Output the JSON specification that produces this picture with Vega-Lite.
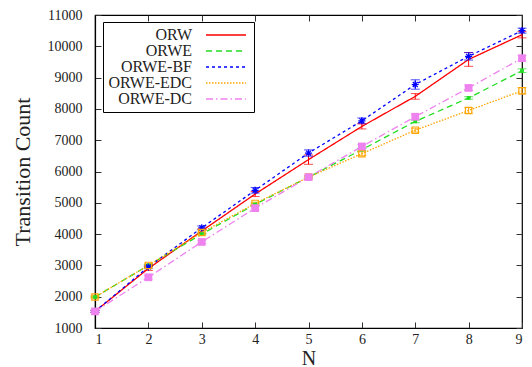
{
  "$schema": "https://vega.github.io/schema/vega-lite/v6.json",
  "width": 427,
  "height": 313,
  "autosize": {"type": "none"},
  "padding": {"left": 95, "top": 15, "right": 10, "bottom": 39},
  "background": "white",
  "config": {
    "font": "Liberation Serif",
    "view": {"stroke": "black", "strokeWidth": 1.2},
    "axis": {
      "grid": false,
      "domainColor": "black",
      "domainWidth": 1.2,
      "tickColor": "#333",
      "tickSize": -6,
      "tickWidth": 1,
      "labelColor": "#222",
      "labelFont": "Liberation Serif",
      "labelFontSize": 14,
      "titleFont": "Liberation Serif",
      "titleFontSize": 22,
      "titleFontWeight": "normal",
      "titleColor": "#222"
    },
    "legend": {
      "labelFont": "Liberation Serif",
      "labelFontSize": 16,
      "labelColor": "#222"
    }
  },
  "data": {
    "values": [
      {"N": 1, "series": "ORW", "count": 1530, "err": 30},
      {"N": 2, "series": "ORW", "count": 2900, "err": 60},
      {"N": 3, "series": "ORW", "count": 4100, "err": 70},
      {"N": 4, "series": "ORW", "count": 5280, "err": 80},
      {"N": 5, "series": "ORW", "count": 6380, "err": 150},
      {"N": 6, "series": "ORW", "count": 7440, "err": 80},
      {"N": 7, "series": "ORW", "count": 8400, "err": 90},
      {"N": 8, "series": "ORW", "count": 9580, "err": 220},
      {"N": 9, "series": "ORW", "count": 10370, "err": 100},
      {"N": 1, "series": "ORWE", "count": 1990, "err": 20},
      {"N": 2, "series": "ORWE", "count": 3000, "err": 30},
      {"N": 3, "series": "ORWE", "count": 4000, "err": 30},
      {"N": 4, "series": "ORWE", "count": 4950, "err": 30},
      {"N": 5, "series": "ORWE", "count": 5820, "err": 30},
      {"N": 6, "series": "ORWE", "count": 6700, "err": 40},
      {"N": 7, "series": "ORWE", "count": 7600, "err": 40},
      {"N": 8, "series": "ORWE", "count": 8350, "err": 40},
      {"N": 9, "series": "ORWE", "count": 9220, "err": 60},
      {"N": 1, "series": "ORWE-BF", "count": 1530, "err": 30},
      {"N": 2, "series": "ORWE-BF", "count": 2950, "err": 40},
      {"N": 3, "series": "ORWE-BF", "count": 4200, "err": 60},
      {"N": 4, "series": "ORWE-BF", "count": 5400, "err": 90},
      {"N": 5, "series": "ORWE-BF", "count": 6590, "err": 100},
      {"N": 6, "series": "ORWE-BF", "count": 7620, "err": 90},
      {"N": 7, "series": "ORWE-BF", "count": 8780, "err": 150},
      {"N": 8, "series": "ORWE-BF", "count": 9680, "err": 120},
      {"N": 9, "series": "ORWE-BF", "count": 10500, "err": 80},
      {"N": 1, "series": "ORWE-EDC", "count": 1990, "err": 40},
      {"N": 2, "series": "ORWE-EDC", "count": 3000, "err": 50},
      {"N": 3, "series": "ORWE-EDC", "count": 4050, "err": 50},
      {"N": 4, "series": "ORWE-EDC", "count": 4980, "err": 40},
      {"N": 5, "series": "ORWE-EDC", "count": 5820, "err": 40},
      {"N": 6, "series": "ORWE-EDC", "count": 6570, "err": 60},
      {"N": 7, "series": "ORWE-EDC", "count": 7320, "err": 60},
      {"N": 8, "series": "ORWE-EDC", "count": 7950, "err": 90},
      {"N": 9, "series": "ORWE-EDC", "count": 8580, "err": 100},
      {"N": 1, "series": "ORWE-DC", "count": 1530, "err": 40},
      {"N": 2, "series": "ORWE-DC", "count": 2620, "err": 60},
      {"N": 3, "series": "ORWE-DC", "count": 3750, "err": 50},
      {"N": 4, "series": "ORWE-DC", "count": 4830, "err": 60},
      {"N": 5, "series": "ORWE-DC", "count": 5820, "err": 50},
      {"N": 6, "series": "ORWE-DC", "count": 6800, "err": 60},
      {"N": 7, "series": "ORWE-DC", "count": 7750, "err": 80},
      {"N": 8, "series": "ORWE-DC", "count": 8670, "err": 80},
      {"N": 9, "series": "ORWE-DC", "count": 9620, "err": 90}
    ]
  },
  "resolve": {"axis": {"x": "independent", "y": "independent"}},
  "layer": [
    {
      "mark": {"type": "line", "strokeWidth": 1.3},
      "encoding": {
        "x": {
          "field": "N", "type": "quantitative",
          "scale": {"domain": [1, 9], "nice": false, "zero": false},
          "axis": {"orient": "bottom", "title": "N", "titleFontSize": 20, "values": [1, 2, 3, 4, 5, 6, 7, 8, 9], "format": "d", "labelPadding": 10, "titlePadding": 2}
        },
        "y": {
          "field": "count", "type": "quantitative",
          "scale": {"domain": [1000, 11000], "nice": false, "zero": false},
          "axis": {"orient": "left", "title": "Transition Count", "values": [1000, 2000, 3000, 4000, 5000, 6000, 7000, 8000, 9000, 10000, 11000], "format": "d", "labelPadding": 19, "titlePadding": 13}
        },
        "color": {
          "field": "series", "type": "nominal",
          "scale": {
            "domain": ["ORW", "ORWE", "ORWE-BF", "ORWE-EDC", "ORWE-DC"],
            "range": ["#ff0000", "#22dd22", "#0000ff", "#ffa500", "#ee82ee"]
          },
          "legend": {
            "title": null,
            "orient": "none",
            "legendX": 8,
            "legendY": 7,
            "padding": 5,
            "strokeColor": "black",
            "fillColor": "white",
            "symbolType": "M-4,0H4",
            "symbolSize": 100,
            "symbolStrokeWidth": 1.5,
            "symbolOffset": 110,
            "labelAlign": "right",
            "labelOffset": -42,
            "rowPadding": 0
          }
        },
        "strokeDash": {
          "field": "series", "type": "nominal",
          "scale": {
            "domain": ["ORW", "ORWE", "ORWE-BF", "ORWE-EDC", "ORWE-DC"],
            "range": [[1, 0], [6, 4], [3, 3], [1.5, 1.5], [7, 3, 1.5, 3]]
          },
          "legend": {
            "title": null,
            "orient": "none",
            "legendX": 8,
            "legendY": 7,
            "padding": 5,
            "strokeColor": "black",
            "fillColor": "white",
            "symbolType": "M-4,0H4",
            "symbolSize": 100,
            "symbolStrokeWidth": 1.5,
            "symbolOffset": 110,
            "labelAlign": "right",
            "labelOffset": -42,
            "rowPadding": 0
          }
        }
      }
    },
    {
      "mark": {"type": "errorbar", "ticks": {"size": 9, "thickness": 1}, "thickness": 1},
      "encoding": {
        "x": {
          "field": "N", "type": "quantitative",
          "axis": {"orient": "top", "title": null, "labels": false, "values": [1, 2, 3, 4, 5, 6, 7, 8, 9], "domain": false}
        },
        "y": {
          "field": "count", "type": "quantitative",
          "axis": {"orient": "right", "title": null, "labels": false, "values": [1000, 2000, 3000, 4000, 5000, 6000, 7000, 8000, 9000, 10000, 11000], "domain": false}
        },
        "yError": {"field": "err"},
        "color": {"field": "series", "type": "nominal", "legend": null}
      }
    },
    {
      "transform": [{"filter": "datum.series === 'ORWE'"}],
      "mark": {"type": "point", "shape": "square", "filled": true, "size": 14, "opacity": 1},
      "encoding": {
        "x": {"field": "N", "type": "quantitative", "axis": null},
        "y": {"field": "count", "type": "quantitative", "axis": null},
        "color": {"field": "series", "type": "nominal", "legend": null}
      }
    },
    {
      "transform": [{"filter": "datum.series === 'ORWE-BF'"}],
      "mark": {"type": "point", "shape": "M-1,0H1M0,-1V1M-0.7,-0.7L0.7,0.7M-0.7,0.7L0.7,-0.7", "filled": false, "size": 50, "strokeWidth": 1.2, "opacity": 1},
      "encoding": {
        "x": {"field": "N", "type": "quantitative", "axis": null},
        "y": {"field": "count", "type": "quantitative", "axis": null},
        "color": {"field": "series", "type": "nominal", "legend": null}
      }
    },
    {
      "transform": [{"filter": "datum.series === 'ORWE-EDC'"}],
      "mark": {"type": "point", "shape": "square", "filled": false, "size": 40, "strokeWidth": 1.2, "opacity": 1},
      "encoding": {
        "x": {"field": "N", "type": "quantitative", "axis": null},
        "y": {"field": "count", "type": "quantitative", "axis": null},
        "color": {"field": "series", "type": "nominal", "legend": null}
      }
    },
    {
      "transform": [{"filter": "datum.series === 'ORWE-DC'"}],
      "mark": {"type": "point", "shape": "square", "filled": true, "size": 60, "opacity": 1},
      "encoding": {
        "x": {"field": "N", "type": "quantitative", "axis": null},
        "y": {"field": "count", "type": "quantitative", "axis": null},
        "color": {"field": "series", "type": "nominal", "legend": null}
      }
    }
  ]
}
